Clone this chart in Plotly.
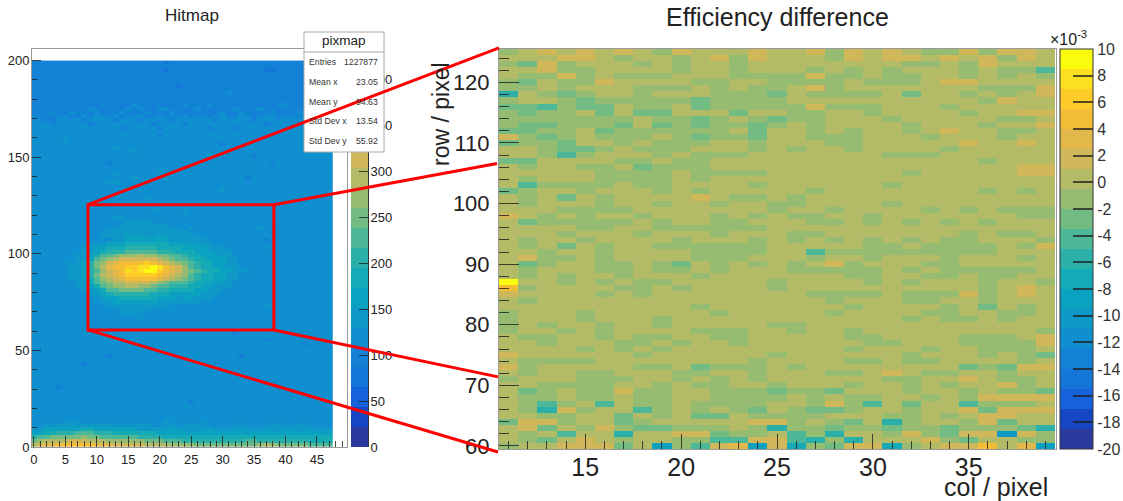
import plotly.graph_objects as go

W, H = 1123, 501
FONT = "Liberation Sans"
BAND_COLORS = ["#2a3a9f", "#1746c4", "#1562da", "#1476d8", "#1381d6", "#0f8ed0",
               "#0e98c8", "#0ba2c2", "#14aab6", "#2ab0a8", "#4cb898", "#72bc84",
               "#95bc70", "#b4bb66", "#d0b75a", "#e2b84a", "#f4bd36", "#fecb28",
               "#fbe020", "#fbfb10"]
BAND_CODES = "0123456789abcdefghij"

# Efficiency difference map: band code per cell, rows from row 125 down to row 60,
# columns 11..26 in the first list and 27..39 in the second.
EFF_LEFT = """cdedededcedddedd dddeedcddcdecedd cbecdddcdcddcddd ddeccddddcddcddd dccecdcccdddcccc
cbdcceddddccddcc ccdcdddcccdcdccd 9dcbcddcdddcccbd cddcbcccccbccccd bbacbbdccdbccccc cbccdbdbbdddbddc
cccccccdccbcdcbc cbbcccbdbcbccbcd bbccdbccccccdbdd ecbcdcccdcbccbdd bccbddcdcccddcdd ddcbbcdcccdddcdc
ddcacdddcdcccddd bbddddccdccddddd dcddccdbcccddddd dddddccccdccccdd dcdddccccdcddddd daccccdccddddcdd
bcddcdddcdcddddd dcdbdcddddedccdc dcdddcddcddcddcc dddccccdddddddcd edcdcddcdddcdcdc dbcccccdcddccddd
ddddccddccccccdd dddcdddcdddcdddc dcddcddddcdddcdc dcdbdcddccccccdd ddcddcddddccccdd deccdcddddcccddd
dbcddccdcbdcdcdc dcdddccdccdcdddc dcdcddcdddcddddd jddcdcdccdddddcd gcddddccdcddddcd eddddcdcdddddddd
dcdddddddddddddd ddddddddddcddddd cdddcddddddcdddd cdddcdddcddddddd cdcddcddcdddddcc cddcdcddddcccddc
dccddcdccddccddd ddcdddccdcddcddd ddddcdcdcddddddd eddddddcddddddcd dccccddddddddcdd ecdddddccdbcccdc
dcddccdddccddcdd cdddcccddcdcdcdd ddccccddcdccddcd dbcdcceccddcccbc dccdccdccddccccd dcacdadccdccccdd
dc9ecddacdcdcbdc ddccddbdcdbbdccc beecddbcdddddeec debdcecbbcccdc9c dcdadd9ddeebccda dcbdedcddccaaeea
cddeeebd7caef7e8""".split()
EFF_RIGHT = """ecededcceceed dcedeededeced dddddccdceddd cdcdcdddcdcca eccdccddcdcdc ccdcccdeedddd ecdddddddccce
ccccdbddcdcde dddddddddcedd ecccdddcddddd cddcddddcddee cdddcdddddccd cddddcdddcdde cdcddcdeddccd
cccdddcdddcdd dccdddddedded ddcddddcddddd ddddcccdddddd dddddddddcddd dddddddddddee dddddcdddddee
ddddddddddddd ddddcdddddddd cddddddddcdcd ddddddddddddd ddddcdddddddd dcddddcdcdccc cddcdddddddcc
ccdcdcdcdcddd ddddddddddddd cdddddddcdccd dcdcdcdccdddc dddccdccccdce acccccccccddd cddcdddcdddcd
decdddccddddd ccccdcdcccccd ddccddccdccdd dddcdcdddcddc dddddddddcded ccccdcccecded dcdddccddcddd
ddcddddcdbdcd dcddddccddccd dddddcdccdcdd ddddddddddddd ddcdddddddddc ddccddddcccde dddccdddcccce
ddcdddcddcccd dddddcdddcdcb ddccdccddddcd ddddddddbcbee dccdedccddcdd ddddccddedccd ddcddcdcddecd
cbdddcddcdccb cdccddcdceeee cecadbddacccd bbcddcddebeee cdddccdcdeedd dcbd9cddcebdd cbccbccbcccb9
c9ddcecbee6ec 9c9dddecbddcc cbee8cdeegdf7""".split()
EFF_COLS = list(range(11, 40))
EFF_ROWS = list(range(125, 59, -1))
EFF_TICK_VALUES = [-20, -18, -16, -14, -12, -10, -8, -6, -4, -2, 0, 2, 4, 6, 8, 10]
EFF_TICK_LABELS = ["-20", "-18", "-16", "-14", "-12", "-10", "-8", "-6", "-4", "-2", "0", "2", "4", "6", "8", "10"]

# Hitmap: band code per bin (col 0..47), rows of 2 units from y=199 down to y=1.
HIT_ROWS = [
"44444444 44444444 44444344 44444444 44444444 44444444",
"44444444 44444444 44444444 44444444 44444444 44444444",
"44444444 44444444 44444344 44444444 44444334 44444444",
"44444444 44444444 44444444 44444444 44444444 44444444",
"44444444 44444444 44444444 44444444 44444444 44444444",
"44444444 44444444 44444444 44444444 44444444 44444444",
"44444444 44444444 44444443 44444444 44444444 44444444",
"44444444 44444444 44444444 44444444 44444444 44444444",
"44444444 44444444 44444444 44444445 44444444 44444444",
"44444444 44444444 44444444 44444444 44444444 44444444",
"44444444 44444444 44444444 44444444 44444444 44444454",
"44444444 44454444 54444444 54445444 44444445 54444444",
"44444444 45444445 45445544 44544444 54445444 44444444",
"44454454 44544454 44544454 44444454 45444454 44554444",
"54445544 54554545 55445454 54554554 45545554 55455454",
"55445555 45555455 54555545 55555455 55545555 55555555",
"55545555 54555555 55545555 45555555 55555455 55555555",
"55555555 55555545 55554555 55554555 45555555 55555555",
"55555555 55555555 55555555 55555555 55555555 55555555",
"55555555 55555555 55554555 55555555 55555455 55555555",
"55555655 55555555 55555555 55555555 55555555 55555555",
"55555555 55555555 55555555 55555545 55555555 55555555",
"55555555 55555655 55555555 55555555 55555555 55555555",
"55555555 55555555 65555555 55555555 55555555 55555555",
"55555555 55555555 55555555 55556555 55545555 55555555",
"55555555 55555555 55555555 55555555 55555555 55555555",
"55555555 55554555 55555555 55555555 55555545 55555555",
"55555555 55555555 55555555 55555555 55655555 55555555",
"55555555 55555555 55556555 55555555 55555555 55555555",
"55555555 55555655 55555555 55555555 55555555 55555555",
"55555555 55555555 65555655 55555555 55455555 55555555",
"55555555 55556655 55555555 55555555 55555555 55555555",
"55555555 55555555 55555555 55555555 55555555 55555555",
"55555555 55555555 55555555 55555565 55555555 55555555",
"55555555 55555555 55555555 55555555 55555555 55555555",
"55555555 55555555 55655555 55555555 55555555 55555555",
"55555555 55555555 55555555 55555555 55555555 55555555",
"55555555 55555555 55555555 55555555 55555555 55555555",
"55555555 55555555 55565555 55555555 55555555 55555555",
"55555555 55555555 55555555 65555555 55555555 55555555",
"55555555 55555665 55555555 55555555 55555555 55555555",
"55555555 55555556 66655555 55555555 55555555 55555555",
"55555555 55555566 66665655 55555555 55555555 55555555",
"55555555 55555666 66666665 56555555 55556555 55555555",
"55555555 55556666 66666666 65555555 55555545 55555555",
"55555555 55566667 77667766 66655555 55555555 55555555",
"55555555 55555667 77777766 66665555 55555455 55555555",
"55555555 56667778 88888877 77666555 55555555 55555555",
"55555555 66778889 99998888 77776665 55555565 55555555",
"55555555 6678999a aaaa9998 88777666 55555555 55555555",
"55555556 678aabcc cdccbbaa 98877766 55555555 55555555",
"55555556 67abcdee eeeedcba a9887776 65555555 55555555",
"55555566 79bcefgg gghgfedc ba988776 65555555 55555555",
"55555566 79bdfggh hiijigfe ca988776 65555555 55555555",
"55555566 79acefgi hijjhgfe cba98877 66655555 55555555",
"55555566 79bdefgh hhhhgfed ca988776 65555555 55555555",
"55555566 78acdefg ggggfedc ba988776 65555555 55555555",
"55555556 68abcdde eeedcbaa a9887766 55555555 55555555",
"55555556 678abccd dccbaa99 98877666 55555555 55555555",
"55555555 6678aabb bbaa9988 88776665 55555555 55555555",
"55555555 56678999 99988877 77766655 55555555 55555555",
"55555555 55667788 88887776 77666555 55555555 55555555",
"55555555 55566777 77776666 66655555 55555555 55555555",
"55555555 55556666 66666655 55555555 55555655 55555555",
"55555555 55555566 66655665 55555555 55555555 55555555",
"55555555 55555566 65555555 55555555 55555555 55555555",
"55555555 55555555 56555555 55555555 55555555 55555555",
"55555555 55555555 55555555 55555555 55555555 55555555",
"55555555 55555555 55555555 55555555 55555555 55555555",
"55555555 55555555 55555555 55555555 55555555 55555555",
"55555555 55555555 55555555 55555555 45555555 55555555",
"55555555 55555555 55555555 55555555 55555555 55555555",
"55555555 55555555 55555555 55555555 55555455 55555555",
"55555555 55555555 55555555 55555555 55555555 55545555",
"55555555 55555555 55555555 55555555 55555555 55555555",
"55555555 55555555 55555555 55555555 55555555 55555555",
"55555555 55554555 55555555 55555555 54555555 55555555",
"55555555 55555555 55555555 55555555 55555555 55555555",
"55555555 45555555 55555555 55555555 55555555 55555555",
"55555555 55555555 55555555 55555555 55555555 55555555",
"55555555 55555555 55555555 55555555 55555555 55555555",
"55555555 55555555 55555555 55555555 55555555 55555555",
"55555555 55555555 55555555 55555555 55545555 55555555",
"55555555 55555555 55555555 55555555 55555555 55555555",
"55554555 55555555 55555555 55555555 55555555 55555555",
"55555555 55555555 55555555 55555555 55555555 55555555",
"55555555 55555555 55555555 55555555 55555555 55555555",
"55555555 55555555 55555555 55555555 55555555 55555555",
"55555555 55555555 55555555 54555555 55555555 55555555",
"55555555 55555555 55555555 55555555 55555555 55555555",
"55555555 55555555 55555555 55555555 55555555 55555555",
"55555555 55555555 55555555 55555555 55555555 55555555",
"55555555 55555555 55555555 55555555 55555555 55555555",
"55555565 55555555 55555655 55565555 55555555 55555555",
"55666666 66666666 66655665 66655555 56555566 55665555",
"66777777 88777777 76666677 66667666 66666666 66666666",
"7788999a aa999888 88887777 77777777 77777777 77777777",
"9aabbbbb cbbaaaaa a9999888 88888888 88888888 88888888",
"bcddddee edddcccc ccbbbaaa 99999999 99aa9999 99998888",
"deffgggg ggfffeee eeddddcc ccbbbbbb bbbbcdcb bbbbaaaa",
]
HIT_COLS_EDGES = [c - 0.5 for c in range(49)]
HIT_Y_EDGES = list(range(200, -1, -2))

HIT_BAND = 433 / 20
EFF_BAND = 30 / 20
EFF_MIN, EFF_MAX = -20, 10
HIT_MIN, HIT_MAX = 0, 433

STATS_LABELS = ["Entries", "Mean x", "Mean y", "Std Dev x", "Std Dev y"]
STATS_VALUES = ["1227877", "23.05", "94.63", "13.54", "55.92"]

ZOOM_COL = (8.6, 38.15)
ZOOM_ROW = (60.6, 125.4)
ZOOM_TARGET_ROWS = (125.7, 106.6, 71.4, 59.0)

def px(x):
    return x / W

def py(y):
    return 1 - y / H

def steps(colors):
    n = len(colors)
    out = []
    for i, c in enumerate(colors):
        out += [[i / n, c], [(i + 1) / n, c]]
    return out

SCALE = steps(BAND_COLORS)

LEFT_X = (px(32), px(347))
LEFT_Y = (py(447), py(49))
LEFT_XR = (-0.3, 49.77)
LEFT_YR = (0, 206)
RIGHT_X = (px(499), px(1056))
RIGHT_Y = (py(449), py(49))
RIGHT_XR = (10.5, 39.55)
RIGHT_YR = (59.5, 125.5)

def map_axis(v, dom, rng):
    return dom[0] + (v - rng[0]) / (rng[1] - rng[0]) * (dom[1] - dom[0])

hit_z = [[(BAND_CODES.index(ch) + 0.5) * HIT_BAND for ch in row.replace(" ", "")] for row in HIT_ROWS]
eff_z = [[(BAND_CODES.index(ch) + 0.5) * EFF_BAND + EFF_MIN for ch in (l + r)]
         for l, r in zip(EFF_LEFT, EFF_RIGHT)]

fig = go.Figure()
fig.add_trace(go.Heatmap(
    z=hit_z, x=HIT_COLS_EDGES, y=HIT_Y_EDGES, xaxis="x", yaxis="y",
    zmin=HIT_MIN, zmax=HIT_MAX, colorscale=SCALE, showscale=False))
fig.add_trace(go.Heatmap(
    z=eff_z, x=EFF_COLS, y=EFF_ROWS, xaxis="x2", yaxis="y2",
    zmin=EFF_MIN, zmax=EFF_MAX, colorscale=SCALE,
    colorbar=dict(
        x=px(1060), xanchor="left", xpad=0, y=py(449), yanchor="bottom", ypad=0,
        len=400 / H, lenmode="fraction", thickness=33, thicknessmode="pixels",
        ticks="inside", ticklen=20, tickwidth=1.5, tickcolor="rgba(30,30,30,0.75)",
        tickmode="array", tickvals=EFF_TICK_VALUES, ticktext=EFF_TICK_LABELS,
        outlinecolor="#333", outlinewidth=1,
        tickfont=dict(family=FONT, size=16, color="#333"),
    )))
# Left palette: a one-column heatmap on its own axis, so the stats box and red lines cover it
fig.add_trace(go.Heatmap(
    z=[[(i + 0.5) * HIT_BAND] for i in range(20)], x=[0, 1],
    y=[i * HIT_BAND for i in range(21)], xaxis="x3", yaxis="y3",
    zmin=HIT_MIN, zmax=HIT_MAX, colorscale=SCALE, showscale=False))

LAB = dict(family=FONT, color="#222")
TICK = "rgba(30,30,30,0.8)"
FRAME = "#999"
layout = dict(
    width=W, height=H, margin=dict(l=0, r=0, t=0, b=0, autoexpand=False), autosize=False,
    paper_bgcolor="white", plot_bgcolor="white", showlegend=False,
    xaxis=dict(domain=LEFT_X, range=LEFT_XR, anchor="y", ticks="inside", ticklen=11, tickwidth=1,
               tickcolor=TICK, tick0=0, dtick=5, showgrid=False, zeroline=False, showline=True,
               mirror=True, linecolor=FRAME, tickfont=dict(size=13, **LAB), ticklabelstandoff=0,
               minor=dict(ticks="inside", ticklen=6, tickwidth=1, tickcolor=TICK, dtick=1, tick0=0, showgrid=False)),
    yaxis=dict(domain=LEFT_Y, range=LEFT_YR, anchor="x", ticks="inside", ticklen=9, tickwidth=1,
               tickcolor=TICK, tick0=0, dtick=50, showgrid=False, zeroline=False, showline=True,
               mirror=True, linecolor=FRAME, tickfont=dict(size=13, **LAB), ticklabelstandoff=-1,
               minor=dict(ticks="inside", ticklen=5, tickwidth=1, tickcolor=TICK, dtick=10, tick0=0, showgrid=False)),
    xaxis2=dict(domain=RIGHT_X, range=RIGHT_XR, anchor="y2", ticks="inside", ticklen=15, tickwidth=1.2,
                tickcolor=TICK, tick0=0, dtick=5, showgrid=False, zeroline=False, showline=True,
                mirror=True, linecolor=FRAME, tickfont=dict(size=25, **LAB), ticklabelstandoff=-4,
                minor=dict(ticks="inside", ticklen=8, tickwidth=1.2, tickcolor=TICK, dtick=1, tick0=0, showgrid=False)),
    yaxis2=dict(domain=RIGHT_Y, range=RIGHT_YR, anchor="x2", ticks="inside", ticklen=20, tickwidth=1.2,
                tickcolor=TICK, tick0=0, dtick=10, showgrid=False, zeroline=False, showline=True,
                mirror=True, linecolor=FRAME, tickfont=dict(size=22, **LAB), ticklabelstandoff=4,
                minor=dict(ticks="inside", ticklen=10, tickwidth=1.2, tickcolor=TICK, dtick=2, tick0=0, showgrid=False)),
    xaxis3=dict(domain=(px(351), px(368)), range=(0, 1), anchor="y3", showticklabels=False, ticks="",
                showgrid=False, zeroline=False),
    yaxis3=dict(domain=LEFT_Y, range=(HIT_MIN, HIT_MAX), anchor="x3", side="right", ticks="inside", ticklen=9,
                tickwidth=1, tickcolor=TICK, tick0=0, dtick=50, showgrid=False, zeroline=False, showline=True,
                linecolor="#333", tickfont=dict(size=13, **LAB), ticklabelstandoff=-1),
)

RED = dict(color="#ff0000", width=3)
lx = lambda v: map_axis(v, LEFT_X, LEFT_XR)
ly = lambda v: map_axis(v, LEFT_Y, LEFT_YR)
rx = RIGHT_X[0]
ry = lambda v: map_axis(v, RIGHT_Y, RIGHT_YR)
shapes = [
    dict(type="rect", xref="paper", yref="paper", x0=px(304), x1=px(384), y0=py(152), y1=py(32),
         fillcolor="white", line=dict(color="#aaa", width=1)),
    dict(type="line", xref="paper", yref="paper", x0=px(304), x1=px(384), y0=py(52), y1=py(52),
         line=dict(color="#aaa", width=1)),
    dict(type="rect", xref="x", yref="y", x0=ZOOM_COL[0], x1=ZOOM_COL[1], y0=ZOOM_ROW[0], y1=ZOOM_ROW[1], line=RED),
    dict(type="line", xref="paper", yref="paper", x0=lx(ZOOM_COL[0]), y0=ly(ZOOM_ROW[1]), x1=rx, y1=ry(ZOOM_TARGET_ROWS[0]), line=RED),
    dict(type="line", xref="paper", yref="paper", x0=lx(ZOOM_COL[1]), y0=ly(ZOOM_ROW[1]), x1=rx - px(2), y1=ry(ZOOM_TARGET_ROWS[1]), line=RED),
    dict(type="line", xref="paper", yref="paper", x0=lx(ZOOM_COL[1]), y0=ly(ZOOM_ROW[0]), x1=rx - px(1), y1=ry(ZOOM_TARGET_ROWS[2]), line=RED),
    dict(type="line", xref="paper", yref="paper", x0=lx(ZOOM_COL[0]), y0=ly(ZOOM_ROW[0]), x1=rx - px(1), y1=ry(ZOOM_TARGET_ROWS[3]), line=RED),
]
layout["shapes"] = shapes

def note(text, x, y, size, anchor="center", angle=0, color="#222"):
    return dict(text=text, xref="paper", yref="paper", x=px(x), y=py(y), xanchor=anchor, yanchor="middle",
                showarrow=False, textangle=angle, font=dict(family=FONT, size=size, color=color))

ann = [
    note("Hitmap", 192, 15, 17),
    note("Efficiency difference", 778, 17, 25),
    note("col / pixel", 996, 487, 25),
    note("row / pixel", 441, 114, 23, angle=-90),
    note("×10<sup>-3</sup>", 1068, 38, 16),
    note("pixmap", 344, 41, 13.5),
]
for i, (lab, val) in enumerate(zip(STATS_LABELS, STATS_VALUES)):
    row_y = 62 + i * 19.8
    ann.append(note(lab, 307, row_y, 8.7, anchor="left", color="#333"))
    ann.append(note(val, 380, row_y, 8.7, anchor="right", color="#333"))
layout["annotations"] = ann

fig.update_layout(**layout)
fig.write_html("out.html", config=dict(displayModeBar=False),
               post_script="document.body.style.margin='0';document.body.style.overflow='hidden';")
